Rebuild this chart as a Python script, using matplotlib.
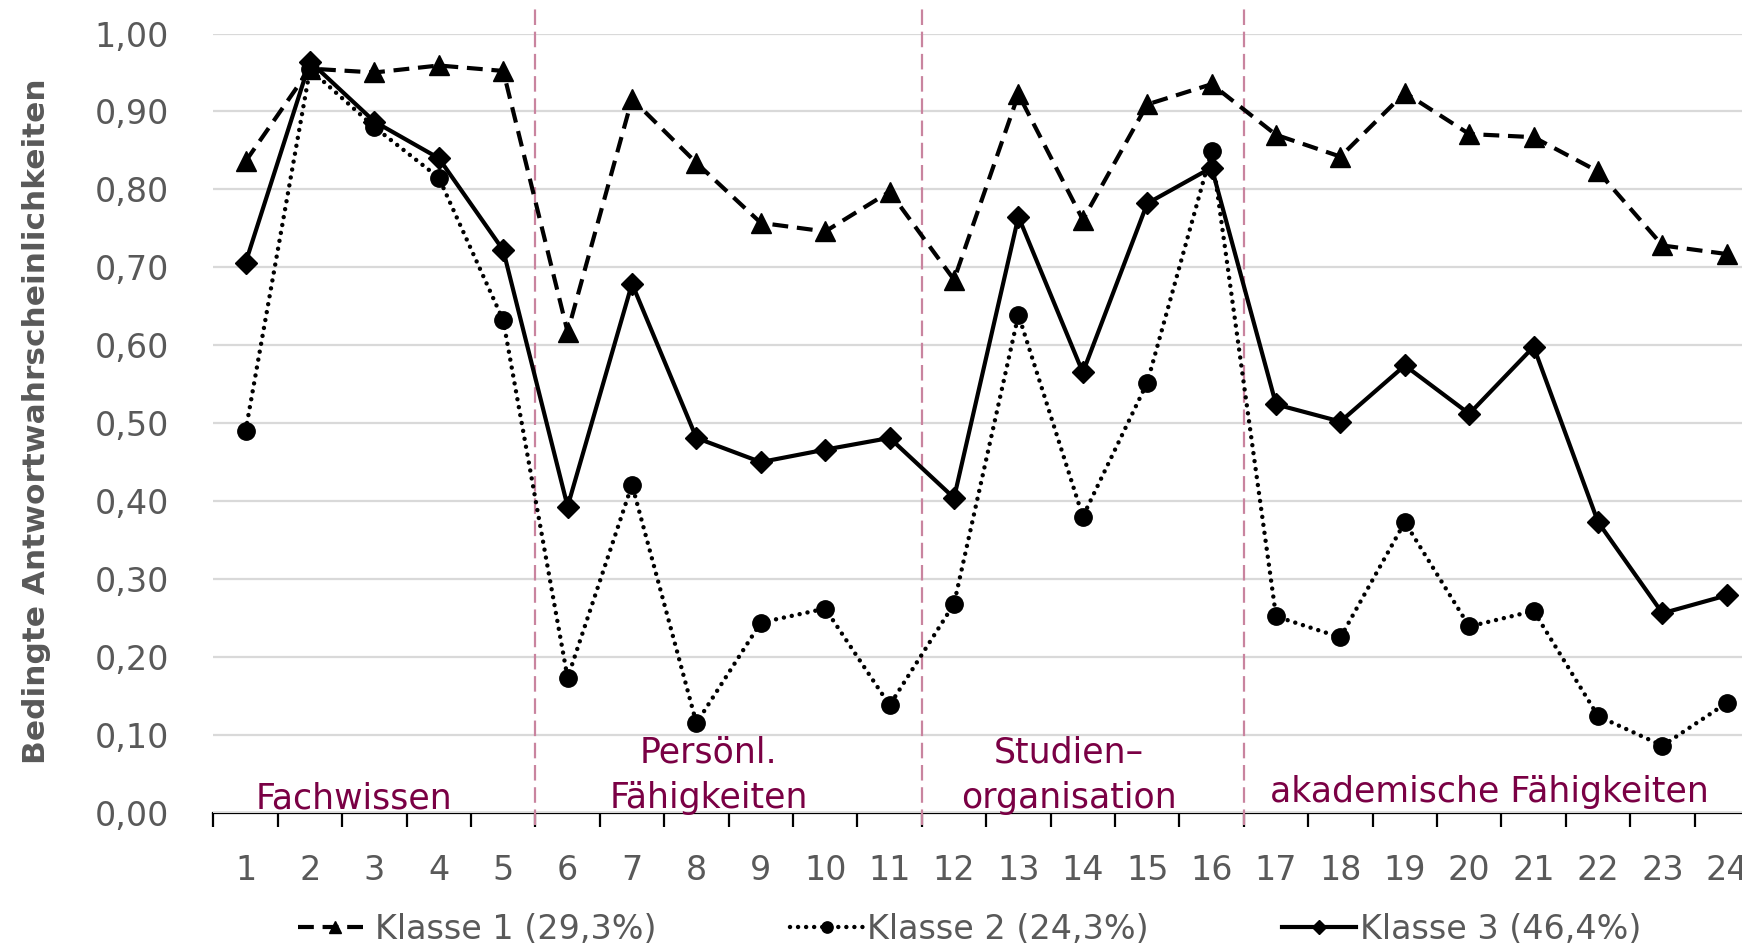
import matplotlib
matplotlib.use("Agg")
import matplotlib.pyplot as plt

plt.rcParams["font.family"] = ["DejaVu Sans"]

# Items 1-24
items = list(range(1, 25))

klasse1 = [0.836, 0.955, 0.950, 0.959, 0.952, 0.617, 0.916, 0.834, 0.757, 0.746, 0.797, 0.684,
           0.922, 0.761, 0.909, 0.935, 0.870, 0.842, 0.924, 0.871, 0.867, 0.823, 0.728, 0.717]
klasse2 = [0.490, 0.954, 0.880, 0.815, 0.632, 0.173, 0.421, 0.115, 0.244, 0.262, 0.138, 0.268,
           0.639, 0.380, 0.552, 0.849, 0.252, 0.225, 0.373, 0.239, 0.259, 0.124, 0.086, 0.141]
klasse3 = [0.706, 0.964, 0.887, 0.840, 0.722, 0.393, 0.679, 0.481, 0.450, 0.466, 0.481, 0.404,
           0.765, 0.565, 0.782, 0.828, 0.524, 0.502, 0.574, 0.512, 0.598, 0.373, 0.256, 0.279]

labels = ["Klasse 1 (29,3%)", "Klasse 2 (24,3%)", "Klasse 3 (46,4%)"]

# Bereiche (Trennlinien zwischen den Items)
trennungen = [5.5, 11.5, 16.5]
bereiche = [
    (2.68, 0.005, "Fachwissen"),
    (8.19, 0.064, "Persönl."),
    (8.19, 0.006, "Fähigkeiten"),
    (13.78, 0.064, "Studien\u2013"),
    (13.78, 0.006, "organisation"),
    (20.31, 0.014, "akademische Fähigkeiten"),
]

grau = "#595959"
lila = "#7A0044"
rosa = "#C9849F"

fig = plt.figure(figsize=(17.42, 9.5), dpi=100)
ax = fig.add_axes([0.1225, 0.1445, 0.8873, 0.8202])

ax.plot(items, klasse1, color="black", lw=3.0, linestyle=(0, (3.8, 2.1)),
        marker="^", markersize=14, label=labels[0])
ax.plot(items, klasse2, color="black", lw=3.2, linestyle=(0, (0.01, 1.8)),
        dash_capstyle="round", marker="o", markersize=12.5, label=labels[1])
ax.plot(items, klasse3, color="black", lw=3.0, linestyle="-",
        marker="D", markersize=11, label=labels[2])

for t in trennungen:
    ax.plot([t, t], [-0.016, 1.035], color=rosa, lw=1.6, linestyle=(0, (7, 3)),
            clip_on=False, zorder=1)

for x, y, txt in bereiche:
    ax.text(x, y, txt, ha="center", va="baseline", fontsize=25, color=lila)

ax.set_xlim(0.5, 24.5)
ax.set_ylim(0, 1)
ax.set_yticks([i / 10 for i in range(11)])
ax.set_yticklabels([f"{i / 10:.2f}".replace(".", ",") for i in range(11)])
ax.set_xticks(items)
ax.set_xticklabels([str(i) for i in items])
ax.set_xticks([i + 0.5 for i in range(0, 25)], minor=True)

ax.grid(axis="y", color="#D9D9D9", lw=1.6)
ax.set_axisbelow(True)
for s in ["top", "right", "left"]:
    ax.spines[s].set_visible(False)
ax.spines["bottom"].set_linewidth(1.6)
ax.spines["bottom"].set_zorder(0.5)

ax.tick_params(axis="y", length=0, pad=32, labelsize=24, labelcolor=grau)
ax.tick_params(axis="x", which="major", length=0, pad=30, labelsize=24, labelcolor=grau)
ax.tick_params(axis="x", which="minor", length=10, width=1.6, color="black", direction="out")

fig.text(37 / 1742, 0.557, "Bedingte Antwortwahrscheinlichkeiten", rotation=90,
         ha="center", va="center", fontsize=22.5, fontweight="bold", color=grau)

fig.legend(loc="center left", bbox_to_anchor=(0.171, 0.022), ncol=3, frameon=False,
           fontsize=24, labelcolor=grau, handlelength=2.2, handletextpad=0.12,
           columnspacing=4.0, markerscale=0.65, borderpad=0, borderaxespad=0)

fig.savefig("out.png", dpi=100)
